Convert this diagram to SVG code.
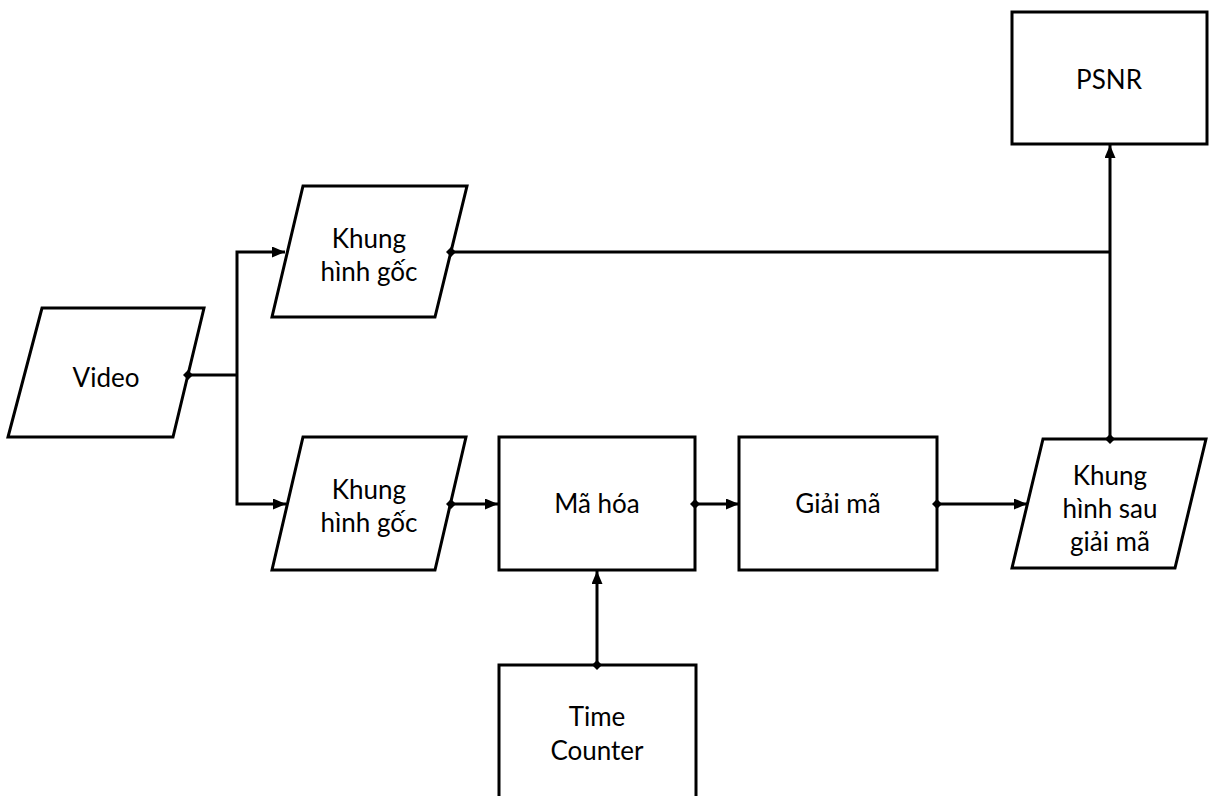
<svg xmlns="http://www.w3.org/2000/svg" width="1209" height="796" viewBox="0 0 1209 796">
  <style>
    .shape { fill: #ffffff; stroke: #000000; stroke-width: 3; stroke-linejoin: miter; }
    .label { font-family: Lato, "Liberation Sans", sans-serif; font-size: 26px; fill: #000000; text-anchor: middle; }
    .wire { fill: none; stroke: #000000; stroke-width: 3; marker-start: url(#dot); marker-end: url(#arrow); }
    .plain { fill: none; stroke: #000000; stroke-width: 3; }
  </style>
  <defs>
    <marker id="arrow" viewBox="0 0 13 11" refX="13" refY="5.5" markerWidth="13" markerHeight="11" markerUnits="userSpaceOnUse" orient="auto">
      <path d="M0,0 L13,5.5 L0,11 Z" fill="#000000"/>
    </marker>
    <marker id="dot" viewBox="0 0 10 10" refX="5" refY="5" markerWidth="10" markerHeight="10" markerUnits="userSpaceOnUse" orient="auto">
      <path d="M5,0 L10,5 L5,10 L0,5 Z" fill="#000000"/>
    </marker>
  </defs>

  <g id="video">
    <polygon class="shape" points="42,308 204,308 173,437 8,437"/>
    <text class="label" x="106" y="387">Video</text>
  </g>

  <g id="khung-goc-1">
    <polygon class="shape" points="303,186 467,186 435,317 272,317"/>
    <text class="label" x="369" y="248">Khung</text>
    <text class="label" x="369" y="281">hình gốc</text>
  </g>

  <g id="khung-goc-2">
    <polygon class="shape" points="303,437 466,437 435,570 272,570"/>
    <text class="label" x="369" y="499">Khung</text>
    <text class="label" x="369" y="532">hình gốc</text>
  </g>

  <g id="ma-hoa">
    <rect class="shape" x="499" y="437" width="196" height="133"/>
    <text class="label" x="597" y="513">Mã hóa</text>
  </g>

  <g id="giai-ma">
    <rect class="shape" x="739" y="437" width="198" height="133"/>
    <text class="label" x="838" y="513">Giải mã</text>
  </g>

  <g id="khung-sau-giai-ma">
    <polygon class="shape" points="1043,439 1206,439 1175,568 1012,568"/>
    <text class="label" x="1110" y="485">Khung</text>
    <text class="label" x="1110" y="518">hình sau</text>
    <text class="label" x="1110" y="551">giải mã</text>
  </g>

  <g id="psnr">
    <rect class="shape" x="1012" y="12" width="195" height="132"/>
    <text class="label" x="1109" y="89">PSNR</text>
  </g>

  <g id="time-counter">
    <rect class="shape" x="499" y="665" width="197" height="140"/>
    <text class="label" x="597" y="726">Time</text>
    <text class="label" x="597" y="760">Counter</text>
  </g>

  <!-- connectors, drawn last so the start dots sit on top of the node outlines -->
  <g id="connectors">
    <!-- Video splits to both frame inputs -->
    <path class="plain" d="M188,375 H237" style="marker-start:url(#dot)"/>
    <path class="plain" d="M237,375 V252 H285" style="marker-end:url(#arrow)"/>
    <path class="plain" d="M237,375 V504 H286" style="marker-end:url(#arrow)"/>
    <!-- original frame to PSNR line -->
    <path class="plain" d="M451,252 H1110" style="marker-start:url(#dot)"/>
    <!-- encoding chain -->
    <path class="wire" d="M451,504 H498"/>
    <path class="wire" d="M695,504 H739"/>
    <path class="wire" d="M937,504 H1027"/>
    <!-- time counter into encoder -->
    <path class="wire" d="M597,665 V571"/>
    <!-- decoded frame up to PSNR -->
    <path class="wire" d="M1110,439 V145"/>
  </g>
</svg>
